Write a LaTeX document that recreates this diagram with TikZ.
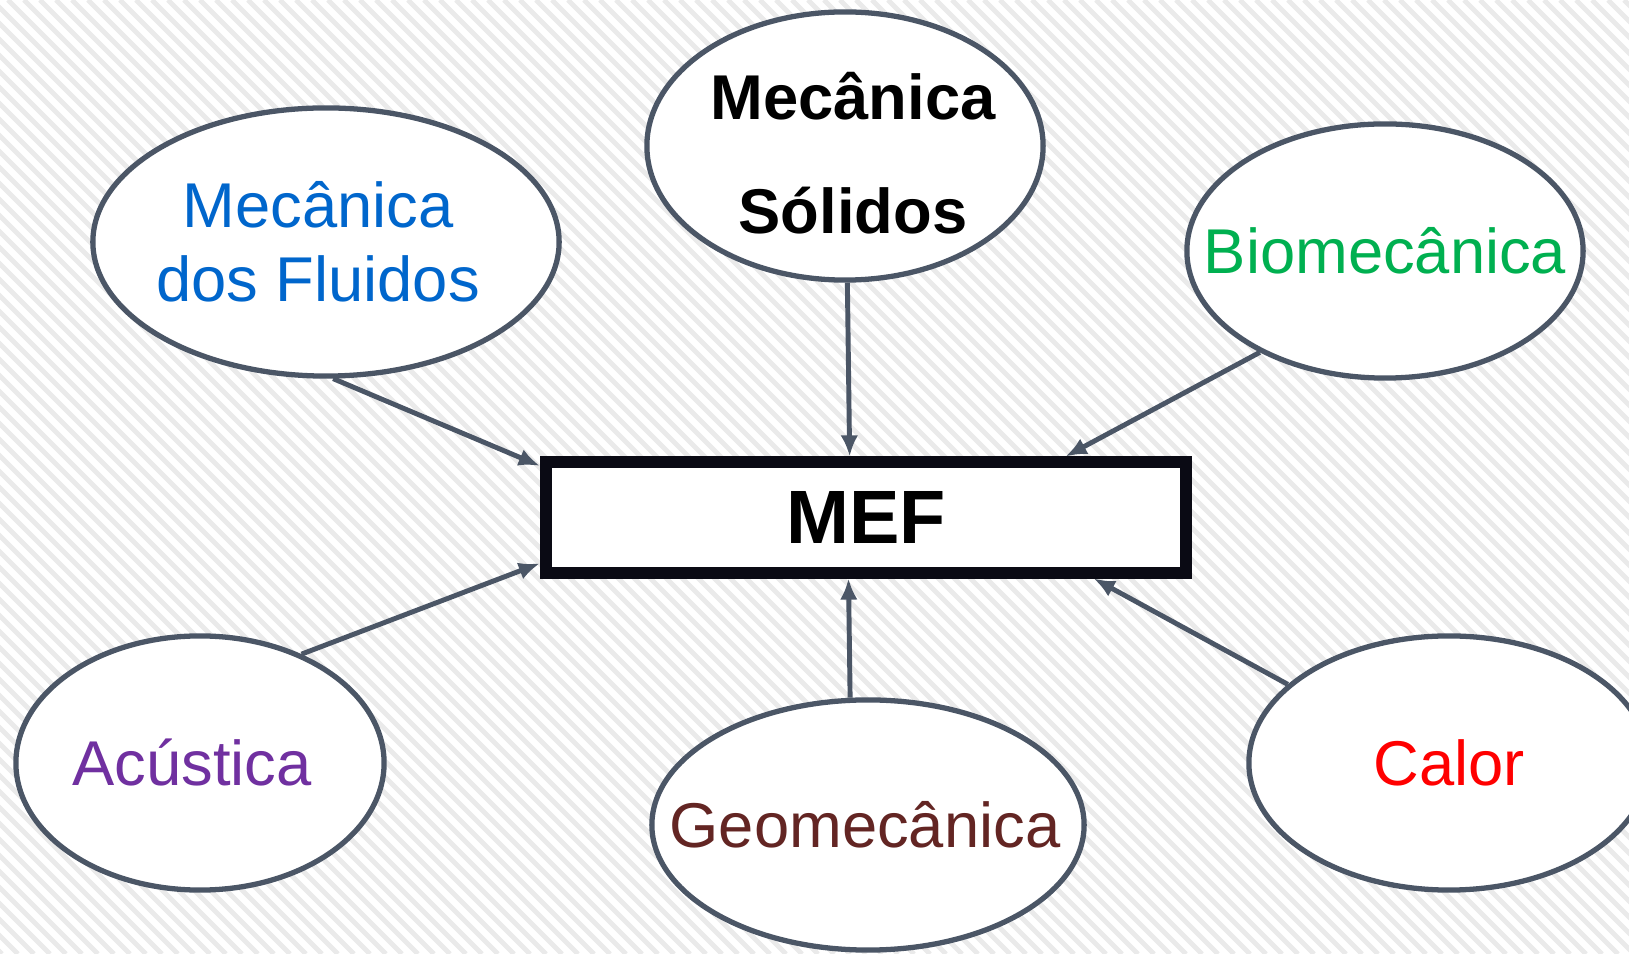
\documentclass[tikz,border=0pt]{standalone}
\usepackage{fontspec}
\setmainfont{Liberation Sans}
\usetikzlibrary{shapes.geometric,arrows.meta}
\definecolor{edgec}{RGB}{75,86,102}
\definecolor{stripec}{RGB}{234,234,234}
\definecolor{tblue}{RGB}{0,102,204}
\definecolor{tgreen}{RGB}{0,176,80}
\definecolor{tpurple}{RGB}{112,48,160}
\definecolor{tred}{RGB}{255,0,0}
\definecolor{tbrown}{RGB}{99,37,35}
\definecolor{mefc}{RGB}{10,10,20}
\tikzset{
  topic/.style={ellipse, draw=edgec, line width=1.5pt, fill=white, inner sep=0pt},
  topictext/.style={align=center, inner sep=0pt, font=\fontsize{18pt}{21pt}\selectfont},
  mefbox/.style={rectangle, draw=mefc, line width=3.4pt, fill=white, inner sep=0pt, minimum width=6.40cm, minimum height=1.10cm, font=\bfseries\fontsize{21.5pt}{24pt}\selectfont},
  link/.style={draw=edgec, line width=1.4pt, -{Latex[length=6pt,width=5pt]}}
}
\begin{document}
\begin{tikzpicture}[x=0.01cm,y=0.01cm]
\useasboundingbox (0,0) rectangle (1629,954);
\fill[white] (0,0) rectangle (1629,954);
\begin{scope}
\clip (0,0) rectangle (1629,954);
\foreach \i in {-1000,-984,...,1640} {
  \draw[stripec, line width=1.4pt] (\i,954) -- ({\i+954},0);
}
\end{scope}

\node[topic, minimum width=4.66cm, minimum height=2.68cm,
  label={[topictext, text=tblue, xshift=-0.08cm]center:Mecânica\\dos Fluidos}] (fl) at (326,712) {};
\node[topic, minimum width=3.96cm, minimum height=2.68cm,
  label={[topictext, font=\bfseries\fontsize{18pt}{32.4pt}\selectfont, xshift=0.08cm, yshift=-0.07cm]center:Mecânica\\Sólidos}] (so) at (845,808) {};
\node[topic, minimum width=3.96cm, minimum height=2.54cm,
  label={[topictext, text=tgreen]center:Biomecânica}] (bio) at (1385,703) {};
\node[topic, minimum width=3.68cm, minimum height=2.54cm,
  label={[topictext, text=tpurple, xshift=-0.08cm]center:Acústica}] (ac) at (200,191) {};
\node[topic, minimum width=4.32cm, minimum height=2.50cm,
  label={[topictext, text=tbrown, xshift=-0.03cm]center:Geomecânica}] (geo) at (868,129) {};
\node[topic, minimum width=4.00cm, minimum height=2.54cm,
  label={[topictext, text=tred]center:Calor}] (cal) at (1449,191) {};

\node[mefbox] (mef) at (866,436.5) {MEF};

\draw[link] (fl.273.7) -- (mef.171.6);
\draw[link] (so.271.7) -- (mef.105.6);
\draw[link] (bio.219) -- (mef.17.4);
\draw[link] (ac.47.1) -- (mef.188.0);
\draw[link] (geo.98.4) -- (mef.254.3);
\draw[link] (cal.154) -- (mef.345.3);
\end{tikzpicture}
\end{document}
